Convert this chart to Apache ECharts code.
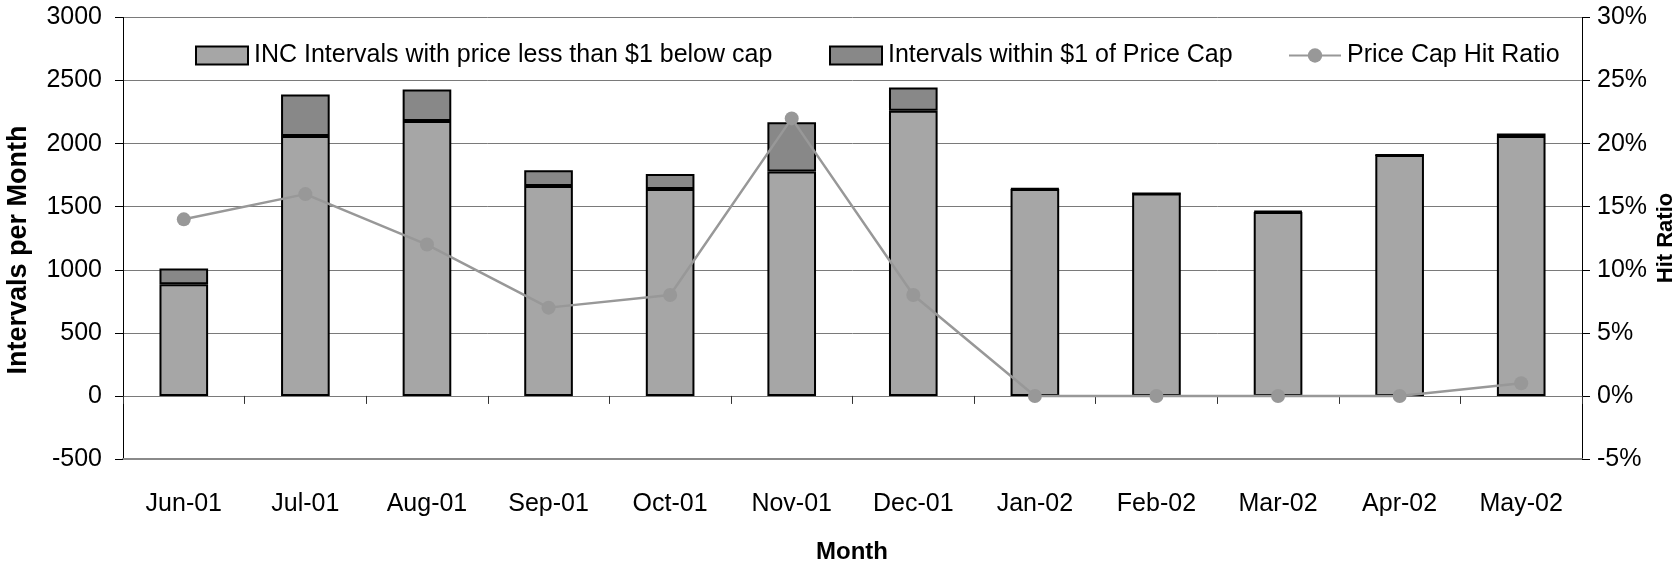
<!DOCTYPE html>
<html>
<head>
<meta charset="utf-8">
<script src="https://cdn.jsdelivr.net/npm/echarts@6/dist/echarts.min.js"></script>
<style>
  html, body { margin: 0; padding: 0; background: #fff; }
  #chart { width: 1678px; height: 565px; }
</style>
</head>
<body>
<div id="chart"></div>
<script>
// Monthly INC interval counts and the price-cap hit ratio
const months = ['Jun-01', 'Jul-01', 'Aug-01', 'Sep-01', 'Oct-01', 'Nov-01',
                'Dec-01', 'Jan-02', 'Feb-02', 'Mar-02', 'Apr-02', 'May-02'];
// intervals with price less than $1 below the cap
const belowCap = [885, 2060, 2180, 1665, 1640, 1780, 2260, 1640, 1605, 1458, 1910, 2060];
// intervals within $1 of the cap
const withinCap = [125, 330, 250, 125, 120, 390, 185, 5, 0, 7, 0, 20];
// price cap hit ratio, percent
const hitRatio = [14, 16, 12, 7, 8, 22, 8, 0, 0, 0, 0, 1];

const leftAxisRange = { min: -500, max: 3000, interval: 500 };
const rightAxisRange = { min: -5, max: 30, interval: 5 };

const names = [
  'INC Intervals with price less than $1 below cap',
  'Intervals within $1 of Price Cap',
  'Price Cap Hit Ratio'
];

const FONT = '"Liberation Sans", Arial, Helvetica, sans-serif';
const txt = { fontFamily: FONT, fontSize: 25, color: '#000' };

const chart = echarts.init(document.getElementById('chart'), null, { renderer: 'canvas' });

function legendAt(name, left, icon) {
  return {
    data: [icon ? { name: name, icon: icon } : name],
    left: left,
    top: 43,
    padding: 0,
    itemGap: 0,
    itemWidth: 52,
    itemHeight: 18,
    selectedMode: false,
    textStyle: Object.assign({}, txt, { padding: [0, 0, 0, 1] })
  };
}

function axisTitle(text, x, y, size, vertical) {
  return {
    type: 'text',
    x: x, y: y,
    rotation: vertical ? Math.PI / 2 : 0,
    style: {
      text: text,
      fontFamily: FONT, fontSize: size, fontWeight: 'bold', fill: '#000',
      align: 'center', verticalAlign: 'middle',
      textAlign: 'center', textVerticalAlign: 'middle'
    }
  };
}

chart.setOption({
  animation: false,
  backgroundColor: '#fff',
  textStyle: { fontFamily: FONT },
  grid: {
    left: 123, right: 96, top: 17.5, bottom: 106,
    outerBoundsMode: 'none'
  },
  legend: [
    legendAt(names[0], 195, 'rect'),
    legendAt(names[1], 829, 'rect'),
    legendAt(names[2], 1288, null)
  ],
  xAxis: [
    {
      // labels along the bottom edge of the plot
      type: 'category',
      data: months,
      position: 'bottom',
      axisLine: { onZero: false, lineStyle: { color: '#8a8a8a', width: 2 } },
      axisTick: { show: false },
      axisLabel: Object.assign({}, txt, { margin: 33, interval: 0 }),
      splitLine: { show: false }
    },
    {
      // category ticks sitting on the zero line
      type: 'category',
      data: months,
      position: 'bottom',
      axisLine: { onZero: true, onZeroAxisIndex: 0, lineStyle: { color: '#7a7a7a', width: 1 } },
      axisTick: { show: true, inside: false, length: 8, interval: 0, lineStyle: { color: '#333', width: 1 } },
      axisLabel: { show: false, interval: 0 },
      splitLine: { show: false }
    }
  ],
  yAxis: [
    {
      type: 'value',
      position: 'left',
      min: leftAxisRange.min,
      max: leftAxisRange.max,
      interval: leftAxisRange.interval,
      axisLine: { show: true, lineStyle: { color: '#000', width: 1 } },
      axisTick: { show: true, length: 8, lineStyle: { color: '#000', width: 1 } },
      axisLabel: Object.assign({}, txt, { margin: 21, formatter: function (v) { return String(v); } }),
      splitLine: { show: true, lineStyle: { color: '#7a7a7a', width: 1 } }
    },
    {
      type: 'value',
      position: 'right',
      min: rightAxisRange.min,
      max: rightAxisRange.max,
      interval: rightAxisRange.interval,
      axisLine: { show: true, lineStyle: { color: '#000', width: 1 } },
      axisTick: { show: true, length: 8, lineStyle: { color: '#000', width: 1 } },
      axisLabel: Object.assign({}, txt, { margin: 15, formatter: function (v) { return v + '%'; } }),
      splitLine: { show: false }
    }
  ],
  series: [
    {
      name: names[0],
      type: 'bar',
      stack: 'intervals',
      xAxisIndex: 0,
      yAxisIndex: 0,
      barWidth: '40%',
      data: belowCap,
      itemStyle: { color: '#a6a6a6', borderColor: '#000', borderWidth: 2 }
    },
    {
      name: names[1],
      type: 'bar',
      stack: 'intervals',
      xAxisIndex: 0,
      yAxisIndex: 0,
      barWidth: '40%',
      data: withinCap,
      itemStyle: { color: '#888888', borderColor: '#000', borderWidth: 2 }
    },
    {
      name: names[2],
      type: 'line',
      xAxisIndex: 0,
      yAxisIndex: 1,
      data: hitRatio,
      symbol: 'circle',
      symbolSize: 14,
      itemStyle: { color: '#989898' },
      lineStyle: { color: '#989898', width: 2.5 },
      z: 5
    }
  ],
  graphic: [
    axisTitle('Intervals per Month', 19, 250, 27, true),
    axisTitle('Hit Ratio', 1666, 238, 22, true),
    axisTitle('Month', 852, 552, 24, false)
  ]
});
</script>
</body>
</html>
